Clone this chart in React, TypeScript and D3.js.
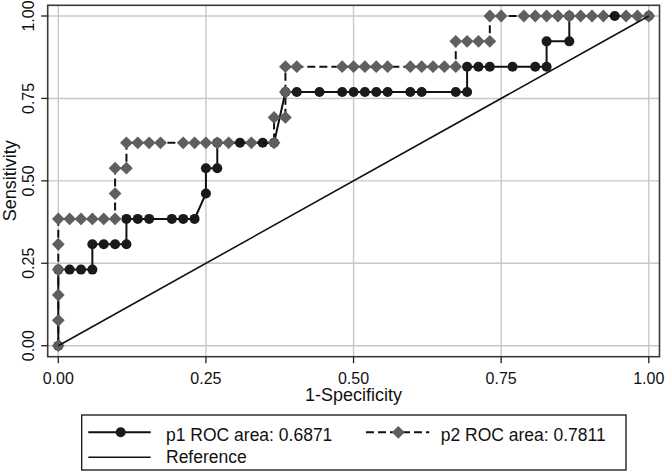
import React from "react";
import * as d3 from "d3";

// x in units of 1/52 (1-specificity), y in units of 1/13 (sensitivity)
const p1X = [0, 0, 1, 2, 3, 3, 4, 5, 6, 6, 7, 8, 10, 11, 12, 13, 13, 14, 14, 16, 18, 19, 20, 21, 23, 25, 26, 27, 28, 29, 31, 32, 35, 36, 36, 37, 38, 40, 42, 43, 43, 45, 45, 49, 52];
const p1Y = [0, 3, 3, 3, 3, 4, 4, 4, 4, 5, 5, 5, 5, 5, 5, 6, 7, 7, 8, 8, 8, 8, 10, 10, 10, 10, 10, 10, 10, 10, 10, 10, 10, 10, 11, 11, 11, 11, 11, 11, 12, 12, 13, 13, 13];
const p2X = [0, 0, 0, 0, 0, 0, 1, 2, 3, 4, 5, 5, 5, 6, 6, 7, 8, 9, 11, 12, 13, 14, 15, 17, 19, 19, 20, 20, 20, 21, 25, 26, 27, 28, 29, 31, 32, 33, 34, 35, 35, 36, 37, 38, 38, 39, 41, 42, 43, 44, 45, 46, 47, 48, 50, 51, 52];
const p2Y = [0, 1, 2, 3, 4, 5, 5, 5, 5, 5, 5, 6, 7, 7, 8, 8, 8, 8, 8, 8, 8, 8, 8, 8, 8, 9, 9, 10, 11, 11, 11, 11, 11, 11, 11, 11, 11, 11, 11, 11, 12, 12, 12, 12, 13, 13, 13, 13, 13, 13, 13, 13, 13, 13, 13, 13, 13];
const nNeg = 52;
const nPos = 13;
const ticks = [0, 0.25, 0.5, 0.75, 1];
const tickLabels = ["0.00", "0.25", "0.50", "0.75", "1.00"];
const legendLabels = ["p1 ROC area: 0.6871", "p2 ROC area: 0.7811", "Reference"];
const xTitle = "1-Specificity";
const yTitle = "Sensitivity";

const FONT = "'Liberation Sans', Arial, Helvetica, sans-serif";

export default function App() {
  const x = d3.scaleLinear().domain([0, 1]).range([58.3, 648.8]);
  const y = d3.scaleLinear().domain([0, 1]).range([345.7, 16]);
  const p1 = p1X.map((v, i) => [v / nNeg, p1Y[i] / nPos] as [number, number]);
  const p2 = p2X.map((v, i) => [v / nNeg, p2Y[i] / nPos] as [number, number]);
  const line = d3.line<[number, number]>().x((d) => x(d[0])).y((d) => y(d[1]));
  const diamond = (cx: number, cy: number, r: number) =>
    `M${cx},${cy - r}L${cx + r},${cy}L${cx},${cy + r}L${cx - r},${cy}Z`;
  const frame = { l: 47.7, t: 5.3, r: 659.5, b: 356.7 };
  const dia = "#5f5f5f";
  return (
    <svg width={666} height={473} style={{ position: "absolute", left: 0, top: 0, background: "#fff" }} fontFamily={FONT}>
      <rect x={0} y={0} width={666} height={473} fill="#fff" />
      {ticks.map((t, i) => (
        <g key={"g" + i}>
          <line x1={x(t)} x2={x(t)} y1={frame.t} y2={frame.b} stroke="#c8c8c8" strokeWidth={1.4} />
          <line x1={frame.l} x2={frame.r} y1={y(t)} y2={y(t)} stroke="#c8c8c8" strokeWidth={1.4} />
        </g>
      ))}
      <rect x={frame.l} y={frame.t} width={frame.r - frame.l} height={frame.b - frame.t} fill="none" stroke="#3a3a3a" strokeWidth={1.6} />
      {ticks.map((t, i) => (
        <g key={"t" + i}>
          <line x1={x(t)} x2={x(t)} y1={frame.b} y2={frame.b + 6.5} stroke="#222" strokeWidth={1.3} />
          <text x={x(t)} y={384} textAnchor="middle" fontSize={16} fill="#111">{tickLabels[i]}</text>
          <line x1={frame.l - 6.5} x2={frame.l} y1={y(t)} y2={y(t)} stroke="#222" strokeWidth={1.3} />
          <text transform={`translate(33.5,${y(t)}) rotate(-90)`} textAnchor="middle" fontSize={16} fill="#111">{tickLabels[i]}</text>
        </g>
      ))}
      <text x={x(0.5)} y={401} textAnchor="middle" fontSize={18} fill="#111">{xTitle}</text>
      <text transform={`translate(15.5,${y(0.5)}) rotate(-90)`} textAnchor="middle" fontSize={18} fill="#111">{yTitle}</text>
      <path d={line(p1) || ""} fill="none" stroke="#111" strokeWidth={2} />
      {p1.map((d, i) => (
        <circle key={"c" + i} cx={x(d[0])} cy={y(d[1])} r={5} fill="#1a1a1a" />
      ))}
      <path d={line(p2) || ""} fill="none" stroke="#111" strokeWidth={2} strokeDasharray="8,4" />
      {p2.map((d, i) => (
        <path key={"d" + i} d={diamond(x(d[0]), y(d[1]), 6.4)} fill={dia} />
      ))}
      <path d={line([[0, 0], [1, 1]]) || ""} fill="none" stroke="#111" strokeWidth={1.6} />
      <rect x={81.7} y={415} width={544.3} height={55} fill="#fff" stroke="#111" strokeWidth={1.3} />
      <line x1={88.3} x2={150.7} y1={432.3} y2={432.3} stroke="#111" strokeWidth={2} />
      <circle cx={120.7} cy={432.3} r={5} fill="#1a1a1a" />
      <text x={166} y={440.5} fontSize={17.5} fill="#111">{legendLabels[0]}</text>
      <line x1={366} x2={429.3} y1={432.3} y2={432.3} stroke="#111" strokeWidth={2} strokeDasharray="8,4" />
      <path d={diamond(398.3, 432.3, 6.4)} fill={dia} />
      <text x={440.7} y={440.5} fontSize={17.5} fill="#111">{legendLabels[1]}</text>
      <line x1={88.3} x2={150.7} y1={457.3} y2={457.3} stroke="#111" strokeWidth={1.6} />
      <text x={166} y={463.3} fontSize={17.5} fill="#111">{legendLabels[2]}</text>
    </svg>
  );
}
